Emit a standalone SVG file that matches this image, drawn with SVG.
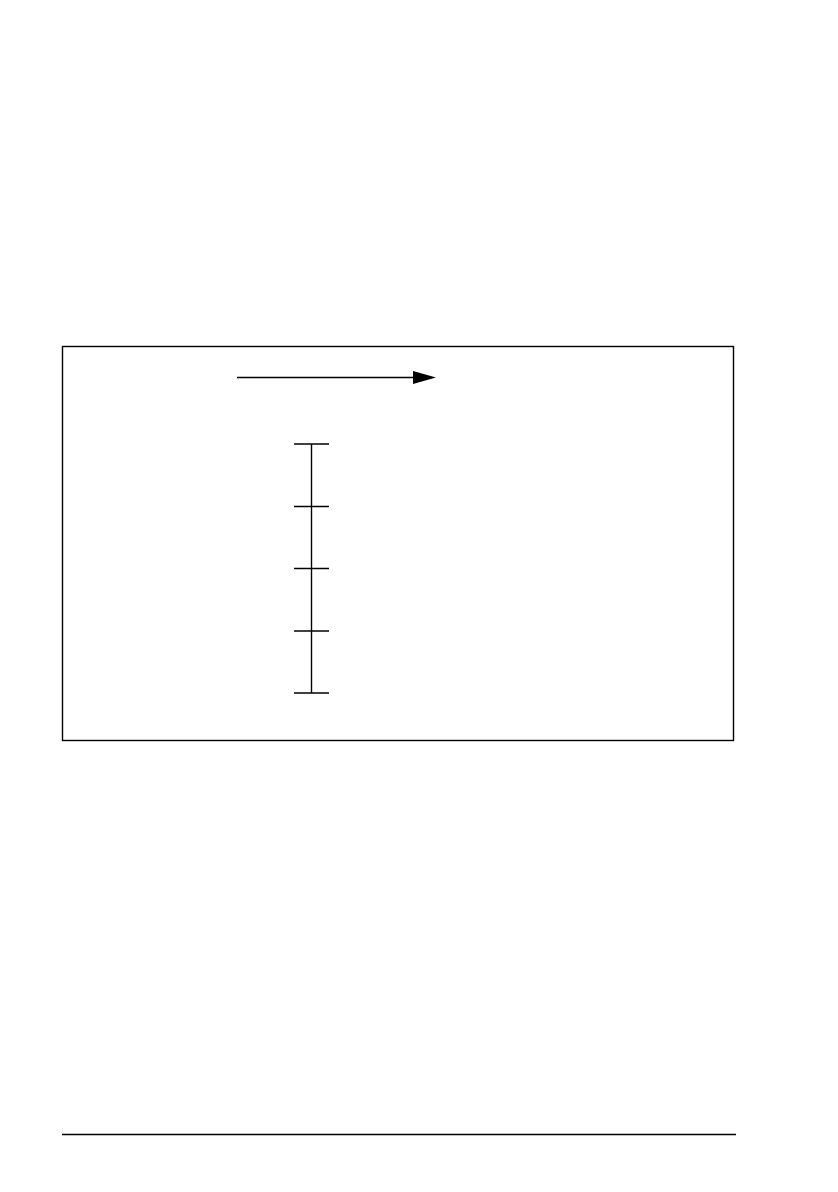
<svg xmlns="http://www.w3.org/2000/svg" width="838" height="1192" viewBox="0 0 838 1192">
<style>
.ln{stroke:#000;stroke-width:1.4;fill:none}
</style>
<rect width="838" height="1192" fill="#fff"/>
<g id="frame">
<rect class="ln" x="62.5" y="346.5" width="671" height="394"/>
</g>
<g id="connectors">
<line class="ln" x1="237" y1="377.5" x2="414" y2="377.5"/>
<polygon points="413,371 436,377.5 413,384" fill="#000"/>
</g>
<g id="scale">
<line class="ln" x1="311.5" y1="444" x2="311.5" y2="693"/>
<line class="ln" x1="294" y1="444" x2="329" y2="444"/>
<line class="ln" x1="294" y1="506.5" x2="329" y2="506.5"/>
<line class="ln" x1="294" y1="568.5" x2="329" y2="568.5"/>
<line class="ln" x1="294" y1="631" x2="329" y2="631"/>
<line class="ln" x1="294" y1="693" x2="329" y2="693"/>
</g>
<g id="footer">
<line class="ln" x1="62" y1="1134.5" x2="736" y2="1134.5"/>
</g>
</svg>
